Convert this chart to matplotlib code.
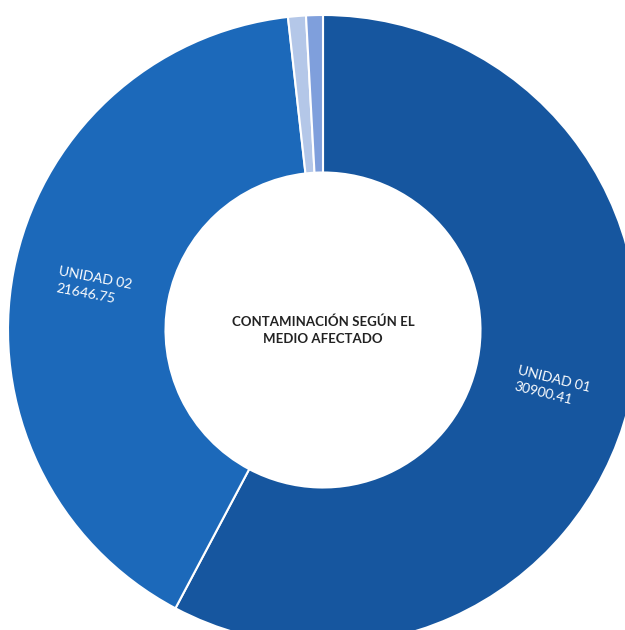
import numpy as np
import matplotlib
matplotlib.use("Agg")
from matplotlib import pyplot as plt

# data
labels = ['UNIDAD 01', 'UNIDAD 02', '', '']
values = [30900.41, 21646.75, 490, 460]
colors = ['#16569f', '#1c69ba', '#b4c7e8', '#7f9fdc']
title = 'CONTAMINACIÓN SEGÚN EL\nMEDIO AFECTADO'

fig = plt.figure(figsize=(6.25, 6.3), dpi=100)
ax = fig.add_axes([0, 0, 1, 1])

# pixel geometry of the ring
cx, cy, R = 323, 300, 315
wedges, _ = ax.pie(values, colors=colors, startangle=90, counterclock=False,
                   radius=1, wedgeprops=dict(width=0.5, edgecolor='white', linewidth=1.5))

ax.set_xlim(-cx / R, (625 - cx) / R)
ax.set_ylim(-cy / R, (630 - cy) / R)
ax.set_aspect('equal')
ax.axis('off')

label_r = [0.75, 0.74]
for i in range(2):
    w = wedges[i]
    mid = (w.theta1 + w.theta2) / 2
    rad = np.deg2rad(mid)
    rot = mid if np.cos(rad) >= 0 else mid - 180
    ax.text(label_r[i] * np.cos(rad), label_r[i] * np.sin(rad),
            f'{labels[i]}\n{values[i]:.2f}', color='white', fontsize=10,
            family='Lato', rotation=rot, rotation_mode='anchor',
            ha='center', va='center', multialignment='left', linespacing=1.45)

ax.text(0, 0.0, title, ha='center', va='center', fontsize=9.5,
        family='Lato', fontweight='bold', color='#222222', linespacing=1.5)

fig.savefig('out.png', dpi=100)
